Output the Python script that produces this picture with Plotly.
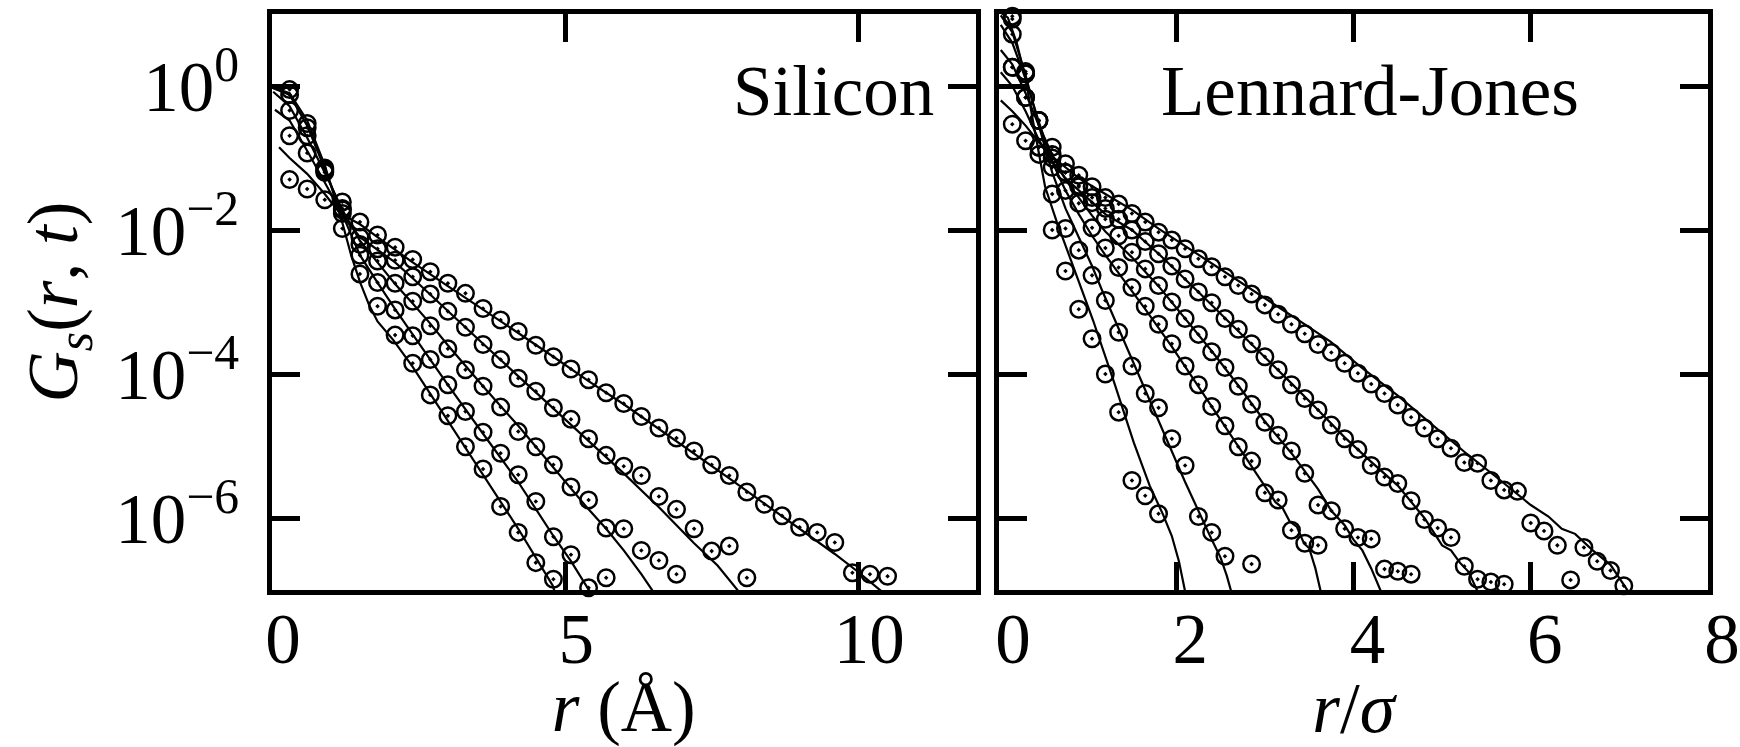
import plotly.graph_objects as go

# ---------------------------------------------------------------
# Self part of the van Hove function, G_s(r, t), log scale.
# Circles: simulation histograms; solid lines: model curves.
# All values below are log10 G_s.
# ---------------------------------------------------------------

# ---- Silicon (r in Angstrom) ----
si_r = [0.3, 0.6, 0.9, 1.2, 1.5, 1.8, 2.1, 2.4, 2.7, 3.0, 3.3, 3.6, 3.9, 4.2, 4.5,
        4.8, 5.1, 5.4, 5.7, 6.0, 6.3, 6.6, 6.9, 7.2, 7.5, 7.8, 8.1, 8.4, 8.7, 9.0,
        9.3, 9.6, 9.9, 10.2, 10.5]

si_sim_1 = [-0.05, -0.52, -1.14, -1.98, -2.61, -3.06, -3.46, -3.85, -4.29, -4.58,
            -5.01, -5.32, -5.84, -6.20, -6.62, -6.85]
si_sim_2 = [-0.12, -0.58, -1.16, -1.77, -2.35, -2.73, -3.11, -3.47, -3.80, -4.15,
            -4.52, -4.81, -5.10, -5.40, -5.77, -6.26, -6.51, -6.97, -6.83]
si_sim_3 = [-0.34, -0.69, -1.18, -1.70, -2.20, -2.43, -2.74, -2.99, -3.33, -3.65,
            -3.94, -4.17, -4.46, -4.80, -5.01, -5.26, -5.57, -5.75, -6.14, -6.15,
            -6.45, -6.59, -6.78]
si_sim_4 = [-0.69, -0.93, -1.20, -1.61, -2.10, -2.26, -2.42, -2.65, -2.89, -3.13,
            -3.35, -3.59, -3.80, -4.06, -4.24, -4.47, -4.63, -4.90, -5.13, -5.28,
            -5.41, -5.70, -5.88, -6.15, -6.46, -6.39, -6.83]
si_sim_5 = [-1.30, -1.43, -1.58, -1.72, -1.89, -2.07, -2.24, -2.41, -2.58, -2.74,
            -2.88, -3.09, -3.25, -3.41, -3.60, -3.76, -3.93, -4.08, -4.26, -4.41,
            -4.59, -4.75, -4.89, -5.07, -5.26, -5.41, -5.64, -5.81, -5.97, -6.13,
            -6.20, -6.34, -6.76, -6.78, -6.81]

si_fit_1_r = [0.02, 0.3, 0.6, 0.9, 1.2, 1.35, 1.5, 1.65, 1.8, 2.07, 2.4, 3.0, 3.6,
              4.2, 4.5, 4.79, 4.83]
si_fit_1 = [-0.02, -0.10, -0.48, -1.10, -1.90, -2.35, -2.72, -3.03, -3.27, -3.53,
            -3.90, -4.65, -5.40, -6.15, -6.55, -6.94, -7.05]
si_fit_2_r = [0.02, 0.3, 0.6, 0.9, 1.2, 1.5, 1.8, 2.1, 2.4, 2.7, 3.0, 3.6, 4.2, 4.8,
              5.1, 5.42]
si_fit_2 = [-0.03, -0.12, -0.55, -1.15, -1.78, -2.35, -2.73, -3.10, -3.45, -3.80,
            -4.15, -4.83, -5.50, -6.25, -6.60, -7.02]
si_fit_3_r = [0.02, 0.3, 0.6, 0.9, 1.2, 1.5, 1.8, 2.1, 2.4, 2.7, 3.0, 3.6, 4.2, 4.8,
              5.4, 5.7, 6.0, 6.3, 6.5]
si_fit_3 = [-0.08, -0.28, -0.72, -1.20, -1.72, -2.15, -2.45, -2.75, -3.02, -3.30,
            -3.60, -4.17, -4.72, -5.30, -5.88, -6.15, -6.45, -6.78, -7.02]
si_fit_4_r = [0.05, 0.3, 0.6, 0.9, 1.2, 1.5, 1.8, 2.1, 2.4, 2.7, 3.0, 3.6, 4.2, 4.8,
              5.4, 6.0, 6.6, 7.2, 7.6, 7.96]
si_fit_4 = [-0.33, -0.48, -0.90, -1.35, -1.78, -2.10, -2.27, -2.45, -2.67, -2.90,
            -3.13, -3.58, -4.03, -4.48, -4.93, -5.38, -5.85, -6.35, -6.66, -7.02]
si_fit_5_r = [0.12, 0.3, 0.6, 0.9, 1.16, 1.5, 1.8, 2.4, 3.0, 3.6, 4.2, 4.8, 5.4, 6.0,
              6.6, 7.2, 7.8, 8.4, 9.0, 9.6, 10.0, 10.4]
si_fit_5 = [-0.85, -1.00, -1.22, -1.50, -1.77, -1.92, -2.10, -2.45, -2.78, -3.10,
            -3.43, -3.76, -4.10, -4.42, -4.76, -5.10, -5.45, -5.80, -6.15, -6.50,
            -6.75, -7.02]

# ---- Lennard-Jones (r in units of sigma) ----
lj_r = [0.15, 0.30, 0.45, 0.60, 0.75, 0.90, 1.05, 1.20, 1.35, 1.50, 1.65, 1.80,
        1.95, 2.10, 2.25, 2.40, 2.55, 2.70, 2.85, 3.00, 3.15, 3.30, 3.45, 3.60,
        3.75, 3.90, 4.05, 4.20, 4.35, 4.50, 4.65, 4.80, 4.95, 5.10, 5.25, 5.40,
        5.55, 5.70, 5.85, 6.00, 6.15, 6.30, 6.45, 6.60, 6.75, 6.90, 7.05]

lj_sim_1 = [0.97, 0.20, -0.85, -2.00, -2.57, -3.10, -3.51, -4.00, -4.53, -5.48,
            -5.69, -5.94]
lj_sim_2 = [0.93, 0.17, -0.48, -1.50, -1.98, -2.28, -2.63, -2.98, -3.42, -3.89,
            -4.27, -4.47, -4.90, -5.27, -5.98, -6.20, -6.53, None, -6.64]
lj_sim_3 = [0.72, 0.17, -0.48, -1.13, -1.45, -1.63, -1.97, -2.25, -2.52, -2.80,
            -3.06, -3.31, -3.58, -3.89, -4.15, -4.45, -4.72, -5.01, -5.21, -5.65,
            -5.75, -6.17, -6.35, -6.38]
lj_sim_4 = [0.26, -0.16, -0.48, -0.85, -1.20, -1.40, -1.62, -1.85, -2.08, -2.31,
            -2.54, -2.77, -3.00, -3.23, -3.45, -3.69, -3.91, -4.17, -4.42, -4.67,
            -4.85, -5.07, -5.38, -5.82, -5.90, -6.15, -6.27, -6.29, -6.71, -6.74,
            -6.78]
lj_sim_5 = [0.26, -0.16, -0.85, -0.95, -1.20, -1.38, -1.55, -1.70, -1.85, -2.00,
            -2.16, -2.33, -2.50, -2.68, -2.86, -3.01, -3.23, -3.38, -3.58, -3.76,
            -3.94, -4.15, -4.34, -4.50, -4.71, -4.90, -5.05, -5.27, -5.43, -5.52,
            -5.76, -6.02, -6.14, -6.27, -6.67, -6.85, -6.89, -6.92, None, None,
            None, None, -6.86]
lj_sim_6 = [-0.53, -0.76, -0.95, -1.00, -1.08, -1.24, -1.40, -1.55, -1.64, -1.77,
            -1.89, -2.03, -2.14, -2.26, -2.40, -2.51, -2.65, -2.77, -2.89, -3.04,
            -3.17, -3.31, -3.44, -3.59, -3.70, -3.85, -3.99, -4.14, -4.27, -4.43,
            -4.60, -4.75, -4.90, -5.03, -5.23, -5.24, -5.48, -5.61, -5.63, -6.07,
            -6.18, -6.38, None, -6.41, -6.60, -6.73, -6.94]

lj_fit_1_r = [0.02, 0.1, 0.2, 0.3, 0.4, 0.52, 0.65, 0.8, 0.93, 1.06, 1.3, 1.52,
              1.7, 1.85, 1.95, 2.03, 2.1]
lj_fit_1 = [1.02, 0.95, 0.60, 0.10, -0.60, -1.40, -1.88, -2.38, -2.83, -3.25,
            -4.12, -4.95, -5.55, -5.95, -6.25, -6.60, -7.02]
lj_fit_2_r = [0.02, 0.15, 0.3, 0.45, 0.6, 0.75, 0.9, 1.05, 1.16, 1.5, 1.8, 2.1,
              2.4, 2.5, 2.57, 2.62]
lj_fit_2 = [0.98, 0.75, 0.15, -0.55, -1.20, -1.70, -2.10, -2.50, -2.83, -3.80,
            -4.65, -5.50, -6.30, -6.55, -6.80, -7.02]
lj_fit_3_r = [0.02, 0.15, 0.3, 0.45, 0.6, 0.75, 0.9, 1.05, 1.2, 1.35, 1.5, 1.65,
              1.95, 2.25, 2.55, 2.85, 3.0, 3.12, 3.2, 3.28, 3.36, 3.44, 3.5, 3.57,
              3.63]
lj_fit_3 = [0.85, 0.60, 0.10, -0.50, -1.05, -1.45, -1.78, -2.08, -2.35, -2.60,
            -2.85, -3.10, -3.62, -4.17, -4.72, -5.28, -5.55, -5.78, -5.86, -6.05,
            -6.12, -6.35, -6.42, -6.70, -7.02]
lj_fit_4_r = [0.02, 0.15, 0.3, 0.45, 0.6, 0.75, 0.9, 1.05, 1.2, 1.5, 1.8, 2.1, 2.4,
              2.7, 3.0, 3.3, 3.6, 3.75, 3.9, 4.0, 4.1, 4.2, 4.31]
lj_fit_4 = [0.50, 0.30, -0.10, -0.55, -0.95, -1.30, -1.55, -1.80, -2.02, -2.38,
            -2.78, -3.23, -3.68, -4.16, -4.66, -5.10, -5.60, -5.90, -6.10, -6.30,
            -6.45, -6.70, -7.02]
lj_fit_5_r = [0.02, 0.15, 0.3, 0.45, 0.6, 0.75, 0.9, 1.05, 1.2, 1.5, 1.8, 2.25,
              2.7, 3.0, 3.3, 3.6, 3.9, 4.2, 4.5, 4.8, 5.0, 5.1, 5.2, 5.3, 5.4]
lj_fit_5 = [0.19, 0.00, -0.35, -0.75, -1.05, -1.28, -1.45, -1.62, -1.78, -2.00,
            -2.33, -2.86, -3.40, -3.76, -4.13, -4.50, -4.88, -5.22, -5.55, -6.00,
            -6.38, -6.45, -6.62, -6.75, -7.02]
lj_fit_6_r = [0.02, 0.15, 0.3, 0.45, 0.6, 0.9, 1.2, 1.5, 1.8, 2.1, 2.4, 2.7, 3.0,
              3.4, 3.74, 4.1, 4.5, 4.9, 5.25, 5.6, 6.0, 6.2, 6.35, 6.5, 6.7, 6.9,
              7.06, 7.1]
lj_fit_6 = [-0.20, -0.35, -0.55, -0.78, -0.98, -1.28, -1.50, -1.72, -1.98, -2.22,
            -2.47, -2.71, -2.95, -3.27, -3.55, -3.92, -4.30, -4.72, -5.08, -5.42,
            -5.82, -5.98, -6.15, -6.22, -6.45, -6.65, -6.94, -7.02]

# axis tick labels
y_tickvals_log = [0, -2, -4, -6]
y_ticktext = ["10<sup>0</sup>", "10<sup>−2</sup>", "10<sup>−4</sup>", "10<sup>−6</sup>"]
si_xticks = [0, 5, 10]
lj_xticks = [0, 2, 4, 6, 8]

# ---------------------------------------------------------------
FONT = "Liberation Serif"
FS = 71
INK = "black"


def pow10(vals):
    return [None if v is None else 10 ** v for v in vals]


fig = go.Figure()

panels = [
    ("x", "y", si_r,
     [si_sim_1, si_sim_2, si_sim_3, si_sim_4, si_sim_5],
     [(si_fit_1_r, si_fit_1), (si_fit_2_r, si_fit_2), (si_fit_3_r, si_fit_3),
      (si_fit_4_r, si_fit_4), (si_fit_5_r, si_fit_5)]),
    ("x2", "y2", lj_r,
     [lj_sim_1, lj_sim_2, lj_sim_3, lj_sim_4, lj_sim_5, lj_sim_6],
     [(lj_fit_1_r, lj_fit_1), (lj_fit_2_r, lj_fit_2), (lj_fit_3_r, lj_fit_3),
      (lj_fit_4_r, lj_fit_4), (lj_fit_5_r, lj_fit_5), (lj_fit_6_r, lj_fit_6)]),
]

for xa, ya, grid, sims, fits in panels:
    for fr, fy in fits:
        fig.add_trace(go.Scatter(
            x=fr, y=pow10(fy), xaxis=xa, yaxis=ya, mode="lines",
            line=dict(color=INK, width=2.2), showlegend=False, hoverinfo="skip"))
    for s in sims:
        fig.add_trace(go.Scatter(
            x=grid[:len(s)], y=pow10(s), xaxis=xa, yaxis=ya, mode="markers",
            marker=dict(symbol="circle-open-dot", size=16.5, color=INK,
                        line=dict(color=INK, width=2.5)),
            cliponaxis=False, showlegend=False, hoverinfo="skip"))

ML, MR, MT, MB = 272, 32, 14, 157
PW = 1740 - ML - MR
left_end = (975.5 - ML) / PW
right_start = (999 - ML) / PW

frame = dict(showline=True, linewidth=4.5, linecolor=INK, mirror="allticks",
             ticks="inside", ticklen=28, tickwidth=4.5, tickcolor=INK,
             showgrid=False, zeroline=False, automargin=False,
             tickfont=dict(family=FONT, size=FS, color=INK))

fig.update_layout(
    width=1740, height=747,
    margin=dict(l=ML, r=MR, t=MT, b=MB, autoexpand=False),
    paper_bgcolor="white", plot_bgcolor="white",
    font=dict(family=FONT, size=FS, color=INK),
    xaxis=dict(frame, domain=[0, left_end], range=[0, 12], anchor="y",
               tickvals=si_xticks, ticktext=[str(v) for v in si_xticks],
               ticklabelshift=11, ticklabelstandoff=-17,
               title=dict(text="<i>r</i> (Å)", standoff=8,
                          font=dict(family=FONT, size=FS, color=INK))),
    xaxis2=dict(frame, domain=[right_start, 1], range=[0, 8], anchor="y2",
                tickvals=lj_xticks, ticktext=[str(v) for v in lj_xticks],
                ticklabelshift=14, ticklabelstandoff=-17,
                title=dict(text="<i>r</i>/<i>σ</i>", standoff=8,
                           font=dict(family=FONT, size=FS, color=INK))),
    yaxis=dict(frame, type="log", range=[-7, 1], anchor="x",
               tickvals=[10 ** v for v in y_tickvals_log], ticktext=y_ticktext,
               ticklabelstandoff=14,
               title=dict(text="<i>G<sub>s</sub></i>(<i>r</i>, <i>t</i>)",
                          standoff=16, font=dict(family=FONT, size=FS, color=INK))),
    yaxis2=dict(frame, type="log", range=[-7, 1], anchor="x2", matches="y",
                tickvals=[10 ** v for v in y_tickvals_log], showticklabels=False),
    annotations=[
        dict(text="Silicon", xref="x domain", yref="y domain", x=1, y=1,
             xanchor="right", yanchor="top", xshift=-40, yshift=-36,
             showarrow=False, font=dict(family=FONT, size=FS, color=INK)),
        dict(text="Lennard-Jones", xref="x2 domain", yref="y2 domain",
             x=0.5226, y=1, xanchor="center", yanchor="top", yshift=-36,
             showarrow=False, font=dict(family=FONT, size=FS, color=INK)),
    ],
)

fig.write_html("out.html")
